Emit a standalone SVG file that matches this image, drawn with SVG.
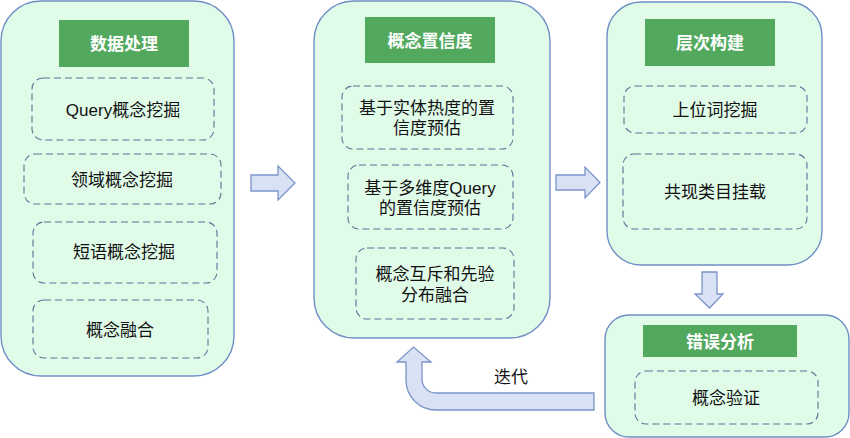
<svg xmlns="http://www.w3.org/2000/svg" width="850" height="438" viewBox="0 0 850 438">
<style>
.outer{fill:#e1fbe9;stroke:#6f8fc6;stroke-width:1.4}
.hdr{fill:#52a95e}
.ht{fill:#ffffff;font-family:"Liberation Sans","Noto Sans CJK SC",sans-serif;font-size:17px;font-weight:bold;text-anchor:middle;dominant-baseline:central}
.dash{fill:none;stroke:#5a7396;stroke-width:1.1;stroke-dasharray:7 4}
.t{fill:#111111;font-family:"Liberation Sans","Noto Sans CJK SC",sans-serif;font-size:17px;text-anchor:middle;dominant-baseline:central}
.arr{fill:#d8e2f4;stroke:#7a94c9;stroke-width:1.3}
</style>
<rect width="850" height="438" fill="#ffffff"/>
<g id="node-data">
<rect class="outer" x="1" y="1" width="233" height="375" rx="40"/>
<rect class="hdr" x="59" y="20" width="130" height="47"/>
<text class="ht" x="124" y="44">数据处理</text>
<rect class="dash" x="32" y="78" width="182" height="62" rx="11"/>
<text class="t" x="123" y="110">Query概念挖掘</text>
<rect class="dash" x="24" y="154" width="197" height="50" rx="11"/>
<text class="t" x="122" y="180">领域概念挖掘</text>
<rect class="dash" x="33" y="222" width="184" height="61" rx="11"/>
<text class="t" x="124" y="252">短语概念挖掘</text>
<rect class="dash" x="33" y="300" width="175" height="58" rx="11"/>
<text class="t" x="120" y="330">概念融合</text>
</g>
<g id="node-confidence">
<rect class="outer" x="314" y="1" width="236" height="337" rx="40"/>
<rect class="hdr" x="365" y="17" width="130" height="46"/>
<text class="ht" x="430" y="41">概念置信度</text>
<rect class="dash" x="342" y="86" width="171" height="63" rx="11"/>
<text class="t" x="427" y="108">基于实体热度的置</text>
<text class="t" x="427" y="128">信度预估</text>
<rect class="dash" x="348" y="165" width="165" height="64" rx="11"/>
<text class="t" x="430" y="188">基于多维度Query</text>
<text class="t" x="430" y="208">的置信度预估</text>
<rect class="dash" x="356" y="248" width="158" height="71" rx="11"/>
<text class="t" x="435" y="274">概念互斥和先验</text>
<text class="t" x="435" y="295">分布融合</text>
</g>
<g id="node-hierarchy">
<rect class="outer" x="607" y="2" width="215" height="263" rx="34"/>
<rect class="hdr" x="645" y="19" width="130" height="47"/>
<text class="ht" x="710" y="43">层次构建</text>
<rect class="dash" x="624" y="86" width="183" height="47" rx="11"/>
<text class="t" x="715" y="110">上位词挖掘</text>
<rect class="dash" x="623" y="154" width="184" height="75" rx="11"/>
<text class="t" x="715" y="192">共现类目挂载</text>
</g>
<g id="node-error">
<rect class="outer" x="605" y="315" width="244" height="122" rx="24"/>
<rect class="hdr" x="643" y="325" width="154" height="32"/>
<text class="ht" x="720" y="342">错误分析</text>
<rect class="dash" x="635" y="371" width="183" height="53" rx="11"/>
<text class="t" x="726" y="398">概念验证</text>
</g>
<g id="connectors">
<path class="arr" d="M251,175 H278 V166 L295,183 L278,200 V191 H251 Z"/>
<path class="arr" d="M556,175 H585 V167 L600,182.5 L585,198 V190 H556 Z"/>
<path class="arr" d="M702,272 H717 V294 H723 L709.5,308 L695,294 H702 Z"/>
<path class="arr" d="M594,393 H436 A14,14 0 0 1 422,379 V362 H431 L413.5,347 L397,362 H406 V380 A30,30 0 0 0 436,410 H594 Z"/>
<text class="t" x="511" y="377">迭代</text>
</g>
</svg>
